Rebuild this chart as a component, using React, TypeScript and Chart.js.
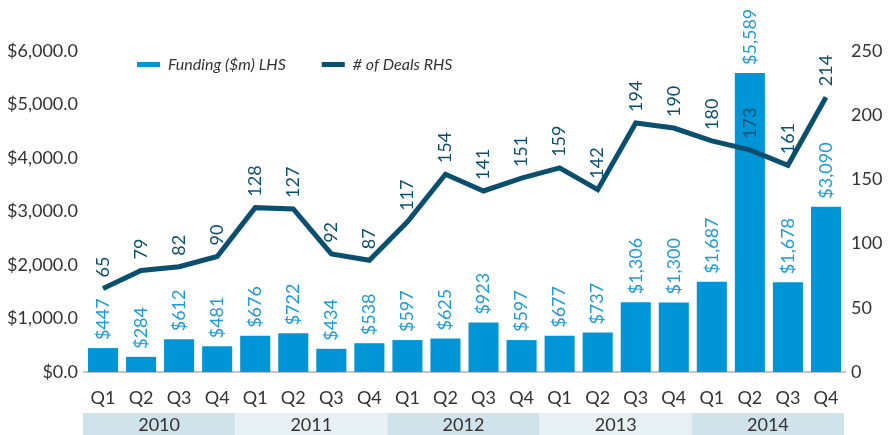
import React, { useEffect, useRef } from "react";
import { Chart, registerables } from "chart.js";

Chart.register(...registerables);

const quarters = ["Q1","Q2","Q3","Q4","Q1","Q2","Q3","Q4","Q1","Q2","Q3","Q4","Q1","Q2","Q3","Q4","Q1","Q2","Q3","Q4"];
const years = ["2010", "2011", "2012", "2013", "2014"];
const funding = [447, 284, 612, 481, 676, 722, 434, 538, 597, 625, 923, 597, 677, 737, 1306, 1300, 1687, 5589, 1678, 3090];
const deals = [65, 79, 82, 90, 128, 127, 92, 87, 117, 154, 141, 151, 159, 142, 194, 190, 180, 173, 161, 214];
const leftTicks = [0, 1000, 2000, 3000, 4000, 5000, 6000];
const rightTicks = [0, 50, 100, 150, 200, 250];

const BAR = "#0095d7";
const BAR_TEXT = "#1c9bd8";
const LINE = "#0b4f6e";
const FONT = "Lato, 'Open Sans', sans-serif";

const fmtMoney = (v: number) =>
  "$" + v.toLocaleString("en-US", { maximumFractionDigits: 0 });

const yearBands = {
  id: "yearBands",
  afterDraw(chart: any) {
    const { ctx, scales } = chart;
    const x = scales.x;
    const step = (x.right - x.left) / quarters.length;
    const top = 413;
    const h = 22;
    ctx.save();
    years.forEach((yr, i) => {
      const x0 = x.left + i * 4 * step - 1;
      const x1 = x.left + (i + 1) * 4 * step - 1;
      ctx.fillStyle = i % 2 === 0 ? "#d0e2ea" : "#e7f0f5";
      ctx.fillRect(x0, top, x1 - x0, h);
      ctx.fillStyle = "#333333";
      ctx.font = `18px ${FONT}`;
      ctx.textAlign = "center";
      ctx.textBaseline = "middle";
      ctx.fillText(yr, (x0 + x1) / 2, top + h / 2 + 1);
    });
    ctx.restore();
  },
};

const valueLabels = {
  id: "valueLabels",
  afterDatasetsDraw(chart: any) {
    const { ctx } = chart;
    ctx.save();
    ctx.font = `18px ${FONT}`;
    ctx.textAlign = "left";
    ctx.textBaseline = "middle";
    chart.data.datasets.forEach((ds: any, di: number) => {
      const meta = chart.getDatasetMeta(di);
      const isBar = ds.type === "bar";
      meta.data.forEach((el: any, i: number) => {
        const v = ds.data[i];
        const txt = isBar ? fmtMoney(v) : String(v);
        ctx.save();
        ctx.translate(el.x, el.y - (isBar ? 8 : 11));
        ctx.rotate(-Math.PI / 2);
        ctx.fillStyle = isBar ? BAR_TEXT : LINE;
        ctx.fillText(txt, 0, 0);
        ctx.restore();
      });
    });
    ctx.restore();
  },
};

const customLegend = {
  id: "customLegend",
  afterDraw(chart: any) {
    const { ctx } = chart;
    ctx.save();
    ctx.font = `italic 16px ${FONT}`;
    ctx.textAlign = "left";
    ctx.textBaseline = "middle";
    let x = 137;
    const y = 65;
    const items = [...chart.data.datasets].sort((a: any, b: any) => b.order - a.order);
    items.forEach((ds: any) => {
      ctx.fillStyle = ds.type === "bar" ? BAR : LINE;
      ctx.fillRect(x, y - 3, 23, 5);
      ctx.fillStyle = "#333333";
      ctx.fillText(ds.label, x + 31, y);
      x += 31 + ctx.measureText(ds.label).width + 36;
    });
    ctx.restore();
  },
};

export default function App() {
  const ref = useRef<HTMLCanvasElement | null>(null);
  useEffect(() => {
    if (!ref.current) return;
    const chart = new Chart(ref.current, {
      type: "bar",
      data: {
        labels: quarters,
        datasets: [
          {
            type: "line" as const,
            label: "# of Deals RHS",
            data: deals,
            yAxisID: "y1",
            borderColor: LINE,
            backgroundColor: LINE,
            borderWidth: 5,
            pointRadius: 0,
            tension: 0,
            borderJoinStyle: "miter",
            order: 0,
          },
          {
            type: "bar" as const,
            label: "Funding ($m) LHS",
            data: funding,
            yAxisID: "y",
            backgroundColor: BAR,
            categoryPercentage: 1,
            barPercentage: 0.79,
            order: 1,
          },
        ] as any,
      },
      options: {
        responsive: false,
        animation: false,
        layout: { padding: { top: 51, left: 0, right: 0, bottom: 0 } },
        plugins: { legend: { display: false }, tooltip: { enabled: false } },
        scales: {
          x: {
            grid: { display: false, drawTicks: false },
            border: { display: true, color: "#c4c4c4", width: 2 },
            ticks: { color: "#333333", font: { family: FONT, size: 18 }, padding: 15, autoSkip: false, maxRotation: 0 },
            afterFit: (s: any) => { s.height = 63; },
          },
          y: {
            position: "left",
            min: 0,
            max: 6000,
            grid: { display: false, drawTicks: false },
            border: { display: false },
            afterBuildTicks: (s: any) => { s.ticks = leftTicks.map((v) => ({ value: v })); },
            ticks: {
              color: "#333333",
              font: { family: FONT, size: 18 },
              padding: 6,
              callback: (v: any) =>
                "$" + Number(v).toLocaleString("en-US", { minimumFractionDigits: 1, maximumFractionDigits: 1 }),
            },
            afterFit: (s: any) => { s.width = 84; },
          },
          y1: {
            position: "right",
            min: 0,
            max: 250,
            grid: { display: false, drawTicks: false },
            border: { display: false },
            afterBuildTicks: (s: any) => { s.ticks = rightTicks.map((v) => ({ value: v })); },
            ticks: { color: "#333333", font: { family: FONT, size: 18 }, padding: 6 },
            afterFit: (s: any) => { s.width = 44; },
          },
        },
      },
      plugins: [yearBands, valueLabels, customLegend],
    });
    return () => chart.destroy();
  }, []);
  return (
    <div style={{ position: "absolute", left: 0, top: 0, width: 889, height: 435, background: "#fff" }}>
      <canvas ref={ref} width={889} height={435} />
    </div>
  );
}
